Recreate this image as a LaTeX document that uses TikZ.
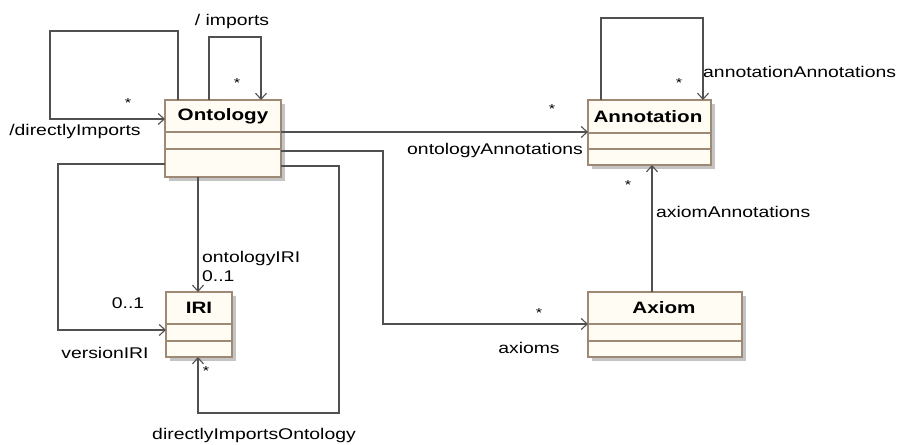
\documentclass[tikz,border=0pt]{standalone}
\usepackage{fontspec}
\setmainfont{Liberation Sans}[FakeStretch=1.25]
\usetikzlibrary{arrows.meta,shadows}
\definecolor{linegray}{HTML}{505050}
\definecolor{boxedge}{HTML}{9E8A74}
\definecolor{boxfill}{HTML}{FFFCF4}
\definecolor{shadowgray}{HTML}{C4C4C4}
\begin{document}
\begin{tikzpicture}[x=1pt,y=-1pt,
  every node/.style={font=\fontsize{15.5}{17}\selectfont},
  classbox/.style={draw=boxedge, line width=1.1pt, fill=boxfill, inner sep=0pt, outer sep=0pt,
    drop shadow={shadow xshift=4pt, shadow yshift=-4pt, fill=shadowgray, opacity=1}},
  divider/.style={draw=boxedge, line width=1.1pt},
  classname/.style={font=\fontsize{16.5}{18}\selectfont\bfseries, inner sep=0pt},
  assoc/.style={draw=linegray, line width=1.2pt,
    -{Straight Barb[length=6pt,width=11pt,line width=1.1pt]}},
  lbl/.style={inner sep=0pt, text=black},
  mult/.style={inner sep=0pt, font=\fontsize{13}{14}\selectfont}]
\useasboundingbox (0,0) rectangle (901,444);

% classes
\node[classbox, minimum width=116pt, minimum height=77pt] (ont) at (223,138.5) {};
\node[classbox, minimum width=123pt, minimum height=65pt] (ann) at (649.5,132.5) {};
\node[classbox, minimum width=154pt, minimum height=65pt] (ax) at (665,324.5) {};
\node[classbox, minimum width=66pt, minimum height=65pt] (iri) at (199,324.5) {};

% compartments
\draw[divider] (ont.west |- 0,132) -- (ont.east |- 0,132);
\draw[divider] (ont.west |- 0,149) -- (ont.east |- 0,149);
\draw[divider] (ann.west |- 0,133) -- (ann.east |- 0,133);
\draw[divider] (ann.west |- 0,149) -- (ann.east |- 0,149);
\draw[divider] (ax.west |- 0,324) -- (ax.east |- 0,324);
\draw[divider] (ax.west |- 0,341) -- (ax.east |- 0,341);
\draw[divider] (iri.west |- 0,324) -- (iri.east |- 0,324);
\draw[divider] (iri.west |- 0,341) -- (iri.east |- 0,341);

% class names
\node[classname] (ontname) at (223,116) {Ontology};
\node[classname] (annname) at (648,117) {Annotation};
\node[classname] (axname) at (664,308) {Axiom};
\node[classname] (iriname) at (199,308) {IRI};

% associations
\draw[assoc] (ont.north -| 178,0) |- (50,31) |- (ont.west |- 0,119);
\draw[assoc] (ont.north -| 209,0) |- (261,37) -- (ont.north -| 261,0);
\draw[assoc] (ont.east |- 0,132) -- (ann.west |- 0,132);
\draw[assoc] (ont.east |- 0,151) -| (383,324) -- (ax.west |- 0,324);
\draw[assoc] (ont.east |- 0,166) -| (339,413) -| (iri.south -| 198,0);
\draw[assoc] (ont.south -| 198,0) -- (iri.north -| 198,0);
\draw[assoc] (ont.west |- 0,164) -| (58,330) -- (iri.west |- 0,330);
\draw[assoc] (ann.north -| 601,0) |- (703,18) -- (ann.north -| 703,0);
\draw[assoc] (ax.north -| 652,0) -- (ann.south -| 652,0);

% role names and multiplicities
\node[mult] (m1) at (128,103) {*};
\node[lbl] (l1) at (75,131) {/directlyImports};
\node[lbl] (l2) at (232,21) {/ imports};
\node[mult] (m2) at (237,83) {*};
\node[mult] (m3) at (552,109) {*};
\node[lbl, anchor=east] (l3) at (583,150) {ontologyAnnotations};
\node[lbl, anchor=west] (l4) at (703,72) {annotationAnnotations};
\node[mult] (m4) at (679,83) {*};
\node[mult] (m5) at (628,185) {*};
\node[lbl, anchor=west] (l5) at (656,212) {axiomAnnotations};
\node[mult] (m6) at (539,313) {*};
\node[lbl] (l6) at (529,348) {axioms};
\node[lbl, anchor=west] (l7) at (202,258) {ontologyIRI};
\node[lbl, anchor=west] (l8) at (202,276) {0..1};
\node[lbl] (l9) at (128,303) {0..1};
\node[lbl] (l10) at (105,353) {versionIRI};
\node[mult] (m7) at (206,371) {*};
\node[lbl] (l11) at (254,435) {directlyImportsOntology};
\end{tikzpicture}
\end{document}
